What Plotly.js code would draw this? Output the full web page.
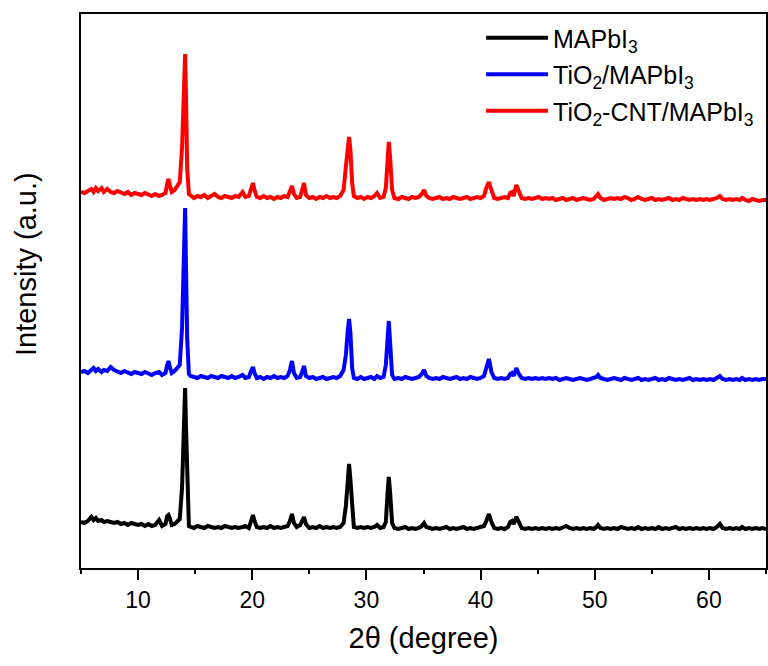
<!DOCTYPE html>
<html>
<head>
<meta charset="utf-8">
<script src="https://cdn.plot.ly/plotly-3.0.1.min.js"></script>
<style>html,body{margin:0;padding:0;background:#fff;}#chart{width:768px;height:666px;}</style>
</head>
<body>
<div id="chart"></div>
<script>
// 2θ grid (degree), shared by the three patterns
const twoTheta = [
  5.0, 5.3, 5.6, 5.9, 6.1, 6.3, 6.5, 6.8, 7.0, 7.3,
  7.6, 7.9, 8.2, 8.5, 8.8, 9.1, 9.4, 9.7, 10.0, 10.3,
  10.6, 10.9, 11.2, 11.5, 11.84, 12.1, 12.4, 12.55, 12.66, 12.8,
  12.95, 13.2, 13.45, 13.65, 13.85, 13.97, 14.05, 14.12, 14.2, 14.3,
  14.45, 14.6, 14.9, 15.2, 15.5, 15.8, 16.1, 16.4, 16.7, 17.0,
  17.3, 17.6, 17.9, 18.2, 18.5, 18.8, 19.15, 19.4, 19.7, 19.9,
  20.06, 20.2, 20.4, 20.7, 21.0, 21.3, 21.6, 21.9, 22.2, 22.5,
  22.8, 23.1, 23.3, 23.48, 23.65, 23.9, 24.2, 24.4, 24.53, 24.7,
  25.0, 25.3, 25.6, 25.9, 26.2, 26.5, 26.8, 27.1, 27.4, 27.7,
  28.0, 28.2, 28.35, 28.48, 28.6, 28.75, 28.9, 29.2, 29.5, 29.8,
  30.1, 30.4, 30.7, 30.93, 31.2, 31.5, 31.7, 31.85, 31.96, 32.08,
  32.25, 32.45, 32.8, 33.1, 33.4, 33.7, 34.0, 34.3, 34.6, 34.85,
  35.05, 35.25, 35.5, 35.8, 36.1, 36.4, 36.7, 37.0, 37.3, 37.6,
  37.9, 38.2, 38.5, 38.8, 39.1, 39.4, 39.7, 40.0, 40.3, 40.5,
  40.73, 40.95, 41.2, 41.5, 41.8, 42.1, 42.4, 42.6, 42.75, 42.9,
  43.13, 43.35, 43.6, 43.9, 44.2, 44.5, 44.8, 45.1, 45.4, 45.7,
  46.0, 46.3, 46.6, 46.9, 47.2, 47.5, 47.8, 48.1, 48.4, 48.7,
  49.0, 49.3, 49.6, 49.9, 50.15, 50.29, 50.5, 50.8, 51.1, 51.4,
  51.7, 52.0, 52.3, 52.6, 52.9, 53.2, 53.5, 53.8, 54.1, 54.4,
  54.7, 55.0, 55.3, 55.6, 55.9, 56.2, 56.5, 56.8, 57.1, 57.4,
  57.7, 58.0, 58.3, 58.6, 58.9, 59.2, 59.5, 59.8, 60.1, 60.4,
  60.7, 60.96, 61.2, 61.5, 61.8, 62.1, 62.4, 62.7, 62.9, 63.2,
  63.5, 63.8, 64.1, 64.4, 64.7, 65.0
];

// MAPbI3 (black, bottom pattern)
const mapbi3 = [
  46, 45, 47, 51, 48, 50, 47, 48, 46, 47,
  46, 45, 46, 44, 45, 43, 45, 44, 43, 44,
  42, 44, 42, 43, 48, 42, 44, 52, 53, 49,
  43, 44, 47, 49, 80, 130, 170, 180, 140, 80,
  42, 41, 40, 42, 41, 40, 42, 41, 40, 41,
  40, 42, 41, 40, 41, 40, 41, 42, 40, 46,
  53, 47, 41, 40, 41, 40, 42, 40, 41, 40,
  41, 42, 47, 54, 45, 41, 43, 48, 51, 44,
  40, 41, 40, 42, 40, 41, 40, 41, 40, 41,
  45, 62, 88, 104, 88, 55, 41, 40, 41, 40,
  41, 40, 41, 43, 40, 41, 46, 75, 91, 75,
  45, 40, 39, 40, 41, 39, 40, 39, 40, 42,
  45, 41, 40, 39, 40, 39, 40, 41, 39, 40,
  39, 40, 41, 39, 40, 39, 40, 41, 42, 47,
  54, 46, 40, 39, 40, 39, 41, 46, 47, 44,
  51, 46, 40, 39, 40, 39, 40, 39, 40, 39,
  40, 39, 40, 39, 40, 42, 40, 39, 40, 39,
  40, 39, 40, 39, 41, 43, 40, 39, 40, 39,
  40, 39, 41, 40, 39, 40, 39, 41, 39, 40,
  39, 40, 39, 41, 39, 40, 39, 40, 41, 39,
  40, 39, 40, 39, 40, 39, 40, 39, 40, 39,
  41, 44, 40, 39, 40, 39, 40, 39, 41, 39,
  40, 39, 40, 39, 40, 39
];

// TiO2/MAPbI3 (blue, middle pattern)
const tio2Mapbi3 = [
  196, 197, 195, 198, 200, 197, 199, 196, 198, 197,
  201, 198, 197, 195, 197, 196, 194, 196, 195, 194,
  196, 194, 193, 195, 196, 193, 195, 203, 207, 200,
  195, 197, 201, 203, 240, 300, 350, 360, 300, 230,
  194, 192, 191, 190, 192, 191, 190, 192, 191, 190,
  192, 191, 190, 192, 190, 191, 193, 190, 191, 197,
  201, 195, 190, 191, 189, 191, 190, 192, 190, 191,
  190, 192, 198, 207, 195, 190, 191, 197, 202, 192,
  190, 191, 189, 190, 191, 189, 190, 191, 190, 192,
  198, 213, 235, 249, 235, 200, 190, 189, 191, 189,
  190, 191, 189, 192, 190, 191, 203, 230, 247, 225,
  193, 189, 190, 189, 191, 190, 189, 190, 191, 194,
  198, 192, 190, 189, 190, 189, 191, 190, 189, 190,
  191, 189, 190, 189, 191, 190, 189, 190, 192, 200,
  209, 196, 190, 189, 190, 189, 190, 194, 195, 192,
  200, 194, 190, 189, 190, 189, 190, 189, 190, 189,
  190, 189, 190, 188, 189, 190, 189, 188, 189, 190,
  189, 188, 189, 190, 191, 193, 190, 189, 188, 189,
  190, 189, 188, 190, 189, 188, 189, 190, 188, 189,
  188, 189, 190, 188, 189, 188, 190, 189, 188, 189,
  188, 189, 190, 188, 189, 188, 189, 188, 189, 188,
  190, 192, 189, 188, 189, 188, 189, 188, 190, 188,
  189, 188, 189, 188, 189, 189
];

// TiO2-CNT/MAPbI3 (red, top pattern)
const tio2CntMapbi3 = [
  376, 375, 377, 379, 376, 380, 377, 380, 376, 379,
  376, 375, 377, 376, 374, 376, 373, 375, 374, 373,
  375, 373, 372, 374, 372, 373, 375, 384, 389, 382,
  376, 378, 382, 386, 420, 470, 505, 514, 470, 400,
  374, 373, 370, 372, 371, 373, 370, 372, 374, 371,
  370, 372, 371, 370, 372, 371, 376, 371, 372, 380,
  385, 378, 371, 370, 372, 370, 371, 369, 371, 370,
  372, 371, 376, 382, 374, 370, 371, 378, 385, 373,
  370, 371, 369, 371, 370, 372, 370, 371, 370, 372,
  378, 401, 420, 431, 418, 385, 372, 370, 371, 369,
  371, 370, 372, 375, 370, 371, 380, 410, 426, 410,
  378, 370, 369, 371, 370, 369, 371, 370, 371, 374,
  378, 372, 370, 369, 370, 371, 369, 370, 369, 371,
  370, 369, 370, 371, 369, 370, 371, 370, 372, 380,
  386, 378, 370, 369, 370, 371, 370, 375, 376, 372,
  383, 376, 370, 369, 370, 369, 370, 371, 369, 370,
  369, 370, 368, 369, 370, 368, 369, 370, 368, 369,
  370, 369, 368, 369, 372, 374, 370, 368, 369, 370,
  369, 370, 369, 371, 370, 368, 369, 371, 369, 368,
  369, 370, 368, 369, 368, 369, 370, 368, 369, 368,
  370, 369, 368, 369, 368, 369, 368, 369, 368, 369,
  370, 372, 369, 368, 369, 368, 369, 368, 370, 368,
  367, 369, 368, 367, 368, 368
];

const seriesNames = ['MAPbI<sub>3</sub>', 'TiO<sub>2</sub>/MAPbI<sub>3</sub>', 'TiO<sub>2</sub>-CNT/MAPbI<sub>3</sub>'];
const seriesColors = ['#000000', '#0000FF', '#FF0000'];
const seriesValues = [mapbi3, tio2Mapbi3, tio2CntMapbi3];
const xTickStart = 0, xTickStep = 10, xMinorStep = 5;
const yTitle = 'Intensity (a.u.)';
const xTitle = '2θ (degree)';

const FONT = 'Arial, "Liberation Sans", sans-serif';

const traces = seriesValues.map((ys, i) => ({
  type: 'scatter',
  mode: 'lines',
  x: twoTheta,
  y: ys,
  name: seriesNames[i],
  legendgroup: 'g' + i,
  line: {color: seriesColors[i], width: 4},
  hoverinfo: 'skip'
}));

const layout = {
  width: 768,
  height: 666,
  margin: {l: 81, r: 2, t: 14, b: 98},
  paper_bgcolor: '#ffffff',
  plot_bgcolor: '#ffffff',
  font: {family: FONT, color: '#000000', size: 22},
  showlegend: true,
  legend: {
    x: 0.584, xanchor: 'left',
    y: 0.998, yanchor: 'top',
    bgcolor: 'rgba(0,0,0,0)',
    borderwidth: 0,
    font: {family: FONT, size: 25, color: '#000000'},
    tracegroupgap: 1,
    itemwidth: 62
  },
  xaxis: {
    range: [5, 65],
    tickmode: 'linear',
    tick0: xTickStart,
    dtick: xTickStep,
    ticks: 'outside',
    ticklen: 10,
    tickwidth: 2,
    tickcolor: '#000000',
    ticklabelstandoff: 0,
    showline: true,
    linewidth: 2,
    linecolor: '#000000',
    mirror: true,
    showgrid: false,
    zeroline: false,
    tickfont: {family: FONT, size: 23, color: '#000000'},
    title: {text: xTitle, font: {family: FONT, size: 29, color: '#000000'}, standoff: 16},
    automargin: false
  },
  // overlay axis carrying only the short minor ticks every 5°
  xaxis2: {
    overlaying: 'x',
    anchor: 'y',
    side: 'bottom',
    range: [5, 65],
    tickmode: 'linear',
    tick0: xTickStart,
    dtick: xMinorStep,
    ticks: 'outside',
    ticklen: 5,
    tickwidth: 2,
    tickcolor: '#000000',
    showticklabels: false,
    showline: false,
    showgrid: false,
    zeroline: false,
    automargin: false
  },
  yaxis: {
    range: [0, 554],
    showticklabels: false,
    ticks: '',
    showline: true,
    linewidth: 2,
    linecolor: '#000000',
    mirror: true,
    showgrid: false,
    zeroline: false,
    automargin: false
  },
  annotations: [{
    text: yTitle,
    xref: 'paper', yref: 'paper',
    x: -0.08, y: 0.549,
    xanchor: 'center', yanchor: 'middle',
    textangle: -90,
    showarrow: false,
    font: {family: FONT, size: 29, color: '#000000'}
  }]
};

// invisible helper trace so the overlay tick axis is drawn
traces.push({type: 'scatter', mode: 'lines', x: [5, 65], y: [null, null], xaxis: 'x2', yaxis: 'y', showlegend: false, hoverinfo: 'skip'});

Plotly.newPlot('chart', traces, layout, {displayModeBar: false, staticPlot: true});
</script>
</body>
</html>
